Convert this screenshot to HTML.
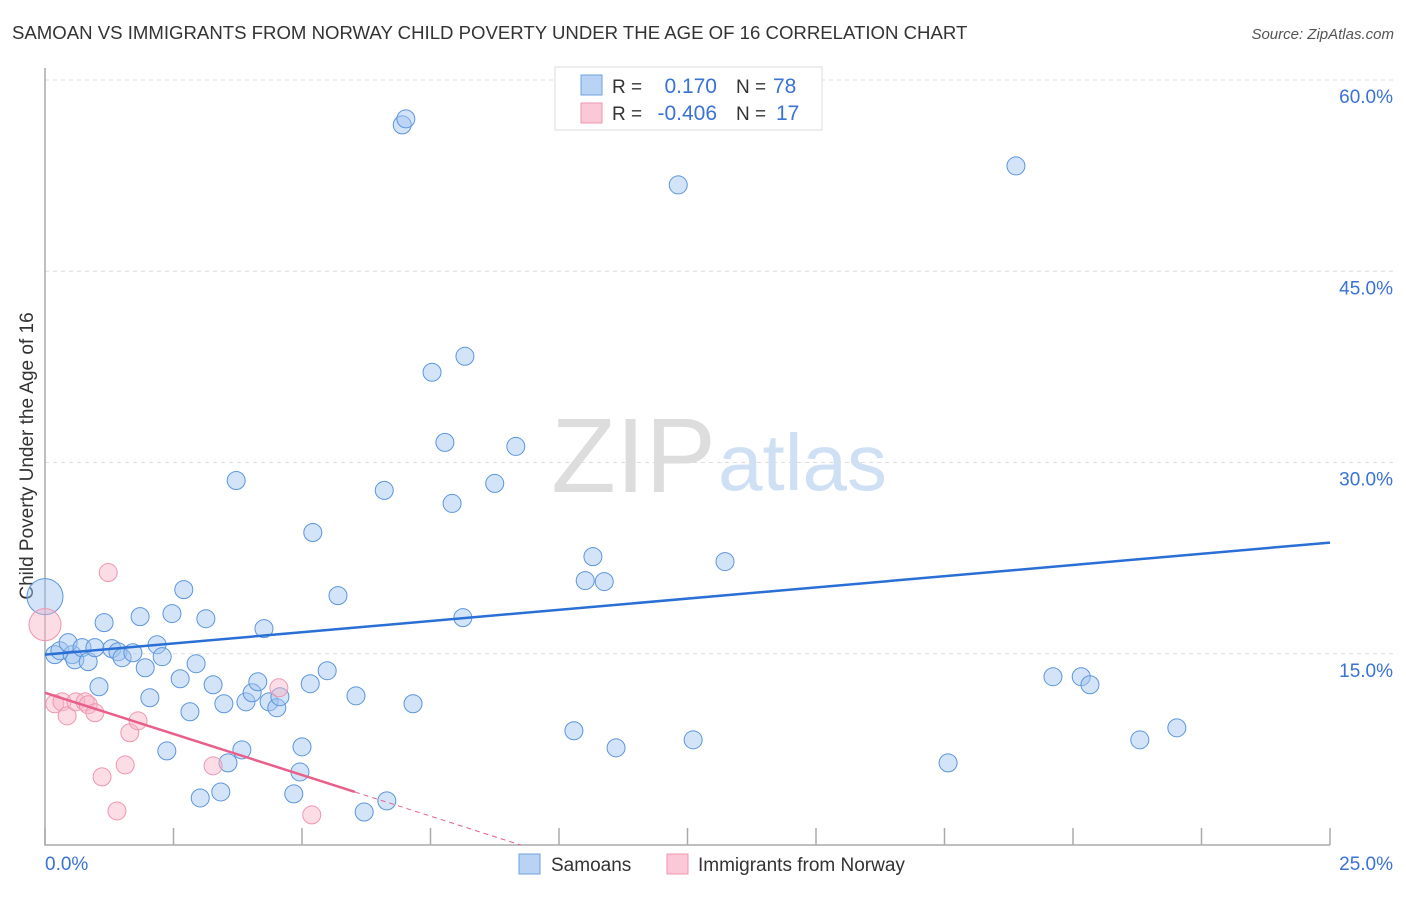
<!DOCTYPE html>
<html><head><meta charset="utf-8"><style>
body{margin:0;background:#fff;font-family:"Liberation Sans",sans-serif}
svg text{font-family:"Liberation Sans",sans-serif}
</style></head><body>
<svg id="c" width="1406" height="892" xmlns="http://www.w3.org/2000/svg">
<text x="12" y="39" font-size="18.6" fill="#333">SAMOAN VS IMMIGRANTS FROM NORWAY CHILD POVERTY UNDER THE AGE OF 16 CORRELATION CHART</text>
<text x="1394" y="39" font-size="15" fill="#555" font-style="italic" text-anchor="end">Source: ZipAtlas.com</text>
<text x="716" y="492" font-size="106" fill="#ddd" text-anchor="end" font-family="Liberation Serif">ZIP</text>
<text x="718" y="490" font-size="80" fill="#cfe0f5">atlas</text>
<text transform="translate(33,456) rotate(-90)" font-size="19" fill="#333" text-anchor="middle">Child Poverty Under the Age of 16</text>
<g id="grid"></g><g id="pts"></g><g id="lines"></g>
<g>
<rect x="555" y="67" width="267" height="63" fill="#fff" stroke="#ddd"/>
<rect x="581" y="75" width="21" height="20" fill="#b9d3f5" stroke="#6fa0e0"/>
<rect x="581" y="103" width="21" height="20" fill="#fac8d6" stroke="#ee96b0"/>
<text x="612" y="93" font-size="19" fill="#333">R =</text><text x="717" y="93" font-size="21" fill="#3a72d6" text-anchor="end">0.170</text>
<text x="736" y="93" font-size="19" fill="#333">N =</text><text x="773" y="93" font-size="21" fill="#3a72d6">78</text>
<text x="612" y="120" font-size="19" fill="#333">R =</text><text x="717" y="120" font-size="21" fill="#3a72d6" text-anchor="end">-0.406</text>
<text x="736" y="120" font-size="19" fill="#333">N =</text><text x="776" y="120" font-size="21" fill="#3a72d6">17</text>
</g>
<g>
<rect x="519" y="854" width="21" height="20" fill="#b9d3f5" stroke="#6fa0e0"/>
<text x="551" y="871" font-size="19" fill="#333">Samoans</text>
<rect x="667" y="854" width="21" height="20" fill="#fac8d6" stroke="#ee96b0"/>
<text x="698" y="871" font-size="19" fill="#333">Immigrants from Norway</text>
</g>
</svg>
<script>
const yTicks=[15,30,45,60];
const yTickLabels=["15.0%","30.0%","45.0%","60.0%"];
const xTicks=[0,2.5,5,7.5,10,12.5,15,17.5,20,22.5,25];
const xEndLabels=["0.0%","25.0%"];
const blueX=[0,.19,.29,.53,.58,.45,.72,.84,.97,1.05,1.15,1.30,1.42,1.50,1.71,1.85,1.95,2.04,2.18,2.28,2.37,2.47,2.63,2.70,2.82,2.94,3.02,3.13,3.27,3.42,3.48,3.56,3.72,3.83,3.91,4.03,4.14,4.26,4.36,4.51,4.57,4.84,4.96,5.00,5.16,5.21,5.49,5.70,6.05,6.21,6.60,6.65,6.95,7.02,7.16,7.53,7.78,7.92,8.13,8.17,8.75,9.16,10.29,10.51,10.66,10.88,11.11,12.32,12.61,13.23,17.57,18.89,19.61,20.16,20.33,21.30,22.02];
const blueY=[19.48,14.93,15.24,14.93,14.53,15.87,15.48,14.38,15.48,12.41,17.44,15.40,15.16,14.69,15.08,17.91,13.90,11.55,15.71,14.77,7.38,18.15,13.04,20.03,10.45,14.22,3.69,17.75,12.57,4.16,11.08,6.44,28.59,7.46,11.23,11.94,12.80,16.97,11.23,10.76,11.63,4.01,5.73,7.70,12.65,24.51,13.67,19.56,11.70,2.59,27.81,3.46,56.48,56.95,11.08,37.08,31.58,26.79,17.83,38.33,28.36,31.26,8.96,20.74,22.62,20.66,7.62,51.77,8.25,22.23,6.44,53.26,13.20,13.20,12.57,8.25,9.19];
const blueR=[18];
const pinkX=[0,.19,.33,.43,.60,.78,.84,.97,1.11,1.23,1.40,1.56,1.65,1.81,3.27,4.55,5.19];
const pinkY=[17.28,11.08,11.23,10.13,11.23,11.23,11.00,10.37,5.34,21.37,2.67,6.28,8.80,9.74,6.21,12.33,2.36];
const pinkR=[16];
const blueTrend=[14.93,23.72];
const pinkTrend=[11.94,4.16];
const pinkSolidEnd=6.03;
const xs=v=>45+v*51.4, ys=v=>845-v*12.75;
const NS="http://www.w3.org/2000/svg";
function mk(t,a,p){const e=document.createElementNS(NS,t);for(const k in a)e.setAttribute(k,a[k]);p.appendChild(e);return e;}
const g=document.getElementById('grid'),P=document.getElementById('pts'),L=document.getElementById('lines');
yTicks.forEach((v,i)=>{
const l=mk('line',{x1:45,x2:1395,y1:ys(v),y2:ys(v),stroke:'#ddd','stroke-dasharray':'4,4'},g);


const t=mk('text',{x:1393,y:ys(v)+23,'font-size':19,fill:'#3a72d6','text-anchor':'end'},g);t.textContent=yTickLabels[i];


});
const ax=mk('path',{d:'M45,68V845H1330',fill:'none',stroke:'#aaa','stroke-width':1.5},g);


xTicks.forEach(v=>{const t=mk('line',{x1:xs(v),x2:xs(v),y1:828,y2:845,stroke:'#aaa','stroke-width':1.5},g);

});
const t0=mk('text',{x:45,y:870,'font-size':19,fill:'#3a72d6'},g);t0.textContent=xEndLabels[0];


const t1=mk('text',{x:1393,y:870,'font-size':19,fill:'#3a72d6','text-anchor':'end'},g);t1.textContent=xEndLabels[1];


blueX.forEach((x,i)=>{const c=mk('circle',{cx:xs(x),cy:ys(blueY[i]),r:blueR[i]||9,fill:'rgba(160,196,240,0.45)',stroke:'#5d95dc','stroke-width':1},P);

});
pinkX.forEach((x,i)=>{const c=mk('circle',{cx:xs(x),cy:ys(pinkY[i]),r:pinkR[i]||9,fill:'rgba(248,180,200,0.45)',stroke:'#ee96b0','stroke-width':1},P);

});
const bl=mk('line',{x1:xs(0),y1:ys(blueTrend[0]),x2:xs(25),y2:ys(blueTrend[1]),stroke:'#2a6fd6','stroke-width':2.5},L);


const slope=(pinkTrend[1]-pinkTrend[0])/pinkSolidEnd, zx=-pinkTrend[0]/slope;
const pl=mk('line',{x1:xs(0),y1:ys(pinkTrend[0]),x2:xs(pinkSolidEnd),y2:ys(pinkTrend[1]),stroke:'#e8608a','stroke-width':2.5},L);


const pd=mk('line',{x1:xs(pinkSolidEnd),y1:ys(pinkTrend[1]),x2:xs(zx),y2:ys(0),stroke:'#e8608a','stroke-width':1,'stroke-dasharray':'5,4'},L);


</script>
</body></html>
